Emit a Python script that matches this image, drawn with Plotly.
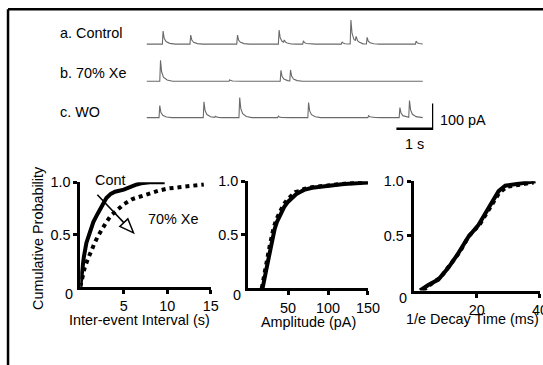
import numpy as np
import plotly.graph_objects as go

S, OFF = 0.975, 8.0      # how the page lands in the photographed picture
W, H = 557, 374          # figure size so that it fills the 543x365 picture
FONT = "Liberation Sans, Arial, sans-serif"
FS = 14.4

# ---------------- top: spontaneous currents ----------------
trace_labels = ["a. Control", "b. 70% Xe", "c. WO"]
trace_offsets = [0, -148, -293]          # pA, stacking of the three recordings
ctrl_t = [0.43, 1.18, 2.45, 3.58, 3.72, 4.24, 5.29, 5.53, 5.67, 5.97, 7.30]
ctrl_a = [52, 36, 36, 56, 10, 13, 9, 96, 20, 27, 12]
xe_t = [0.36, 2.24, 3.63, 3.89]
xe_a = [84, 6, 44, 44]
wo_t = [0.34, 1.54, 1.85, 2.51, 3.56, 4.38, 6.01, 6.86, 7.12]
wo_a = [48, 63, 5, 80, 6, 60, 8, 40, 67]
event_shape_dt = [0, 0.02, 0.05, 0.1, 0.2, 0.35]     # s after onset
event_shape_frac = [0, 1, 0.45, 0.2, 0.06, 0]        # fraction of peak
TRACE_END = 7.5
SCALE_T = 1.0      # s
SCALE_I = 100      # pA

# ---------------- bottom: cumulative distributions ----------------
iei_cont_x = [0, 0.2, 0.4, 0.7, 1.0, 1.5, 2.0, 2.5, 3.0, 3.5, 4.0, 5.0, 5.5, 6.0, 6.5, 7.0, 8.0, 9.7]
iei_cont_y = [0, 0.15, 0.28, 0.42, 0.5, 0.62, 0.7, 0.77, 0.85, 0.89, 0.91, 0.93, 0.95, 0.96, 0.98, 0.99, 1.0, 1.0]
iei_xe_x = [0, 0.2, 0.5, 0.8, 1.2, 1.6, 2.0, 2.5, 3.0, 3.5, 4.0, 5.0, 6.0, 7.0, 8.0, 9.0, 10.0, 11.0, 12.0, 13.0, 14.2]
iei_xe_y = [0, 0.09, 0.18, 0.25, 0.34, 0.41, 0.48, 0.56, 0.62, 0.68, 0.72, 0.79, 0.84, 0.87, 0.9, 0.92, 0.94, 0.95, 0.96, 0.97, 0.98]

amp_cont_x = [18, 20, 22, 25, 28, 30, 33, 36, 40, 45, 50, 55, 60, 65, 70, 80, 90, 100, 120, 140, 150]
amp_cont_y = [0, 0.06, 0.15, 0.26, 0.38, 0.46, 0.55, 0.62, 0.69, 0.76, 0.81, 0.85, 0.88, 0.9, 0.92, 0.94, 0.95, 0.96, 0.975, 0.985, 0.99]
amp_xe_x = [17, 19, 21, 24, 27, 29, 32, 35, 39, 44, 49, 54, 59, 64, 70, 80, 90, 100, 120, 140, 148]
amp_xe_y = [0, 0.07, 0.16, 0.28, 0.4, 0.48, 0.57, 0.64, 0.71, 0.78, 0.83, 0.87, 0.9, 0.91, 0.93, 0.945, 0.955, 0.965, 0.978, 0.988, 0.99]

dec_cont_x = [2, 4.6, 7.8, 11, 14.1, 17.3, 20.5, 23.7, 26.9, 29, 33, 38.6]
dec_cont_y = [0, 0.05, 0.1, 0.21, 0.34, 0.49, 0.6, 0.76, 0.91, 0.96, 0.975, 1.0]
dec_xe_x = [3, 5.5, 8.5, 11.5, 14.5, 17.5, 20.8, 24, 27, 29.5, 33.5, 38]
dec_xe_y = [0, 0.06, 0.12, 0.23, 0.35, 0.5, 0.6, 0.75, 0.89, 0.95, 0.97, 0.99]


def px(rx):
    """picture x (pixels) -> paper x"""
    return (rx / S) / W


def py(ry):
    """picture y (pixels from top) -> paper y"""
    return 1 - ((ry - OFF) / S) / H


fig = go.Figure()

# recordings
for evt_t, evt_a, off in [(ctrl_t, ctrl_a, trace_offsets[0]),
                          (xe_t, xe_a, trace_offsets[1]),
                          (wo_t, wo_a, trace_offsets[2])]:
    knots = [0.0, TRACE_END]
    for t in evt_t:
        knots += [t + d for d in event_shape_dt]
    tt = np.array(sorted(k for k in set(knots) if 0 <= k <= TRACE_END))
    yy = np.full(tt.shape, float(off))
    for t, a in zip(evt_t, evt_a):
        yy += a * np.interp(tt - t, event_shape_dt, event_shape_frac, left=0, right=0)
    fig.add_trace(go.Scatter(x=tt, y=yy, mode="lines", xaxis="x4", yaxis="y4",
                             line=dict(color="#6a6a6a", width=1.1), hoverinfo="skip"))

# scale bar (in recording axis units)
bar_t1 = TRACE_END + 0.285
bar_i0 = trace_offsets[2] - 44
fig.add_trace(go.Scatter(x=[bar_t1 - SCALE_T, bar_t1, bar_t1],
                         y=[bar_i0, bar_i0, bar_i0 + SCALE_I],
                         mode="lines", xaxis="x4", yaxis="y4",
                         line=dict(color="black", width=2.5), cliponaxis=False))

# cumulative plots
panels = [("x", "y", iei_cont_x, iei_cont_y, iei_xe_x, iei_xe_y),
          ("x2", "y2", amp_cont_x, amp_cont_y, amp_xe_x, amp_xe_y),
          ("x3", "y3", dec_cont_x, dec_cont_y, dec_xe_x, dec_xe_y)]
for xa, ya, cx, cy, xx, xy in panels:
    fig.add_trace(go.Scatter(x=xx, y=xy, mode="lines", xaxis=xa, yaxis=ya, cliponaxis=False,
                             line=dict(color="black", width=4, dash="4px,4px")))
    fig.add_trace(go.Scatter(x=cx, y=cy, mode="lines", xaxis=xa, yaxis=ya, cliponaxis=False,
                             line=dict(color="black", width=4)))

axcommon = dict(showline=True, linecolor="black", linewidth=3, ticks="outside",
                ticklen=4, tickwidth=3, tickcolor="black", showgrid=False, zeroline=False,
                tickfont=dict(family=FONT, size=FS, color="black"))

fig.update_layout(
    width=W, height=H, margin=dict(l=0, r=0, t=0, b=0),
    paper_bgcolor="white", plot_bgcolor="white", showlegend=False,
    font=dict(family=FONT, size=FS, color="black"),
    xaxis=dict(domain=[px(80), px(210)], range=[0, 15], tickvals=[5, 10, 15], anchor="y", **axcommon),
    yaxis=dict(domain=[py(285.7), py(181.7)], range=[0, 1], tickvals=[0.5, 1.0],
               ticktext=["0.5", "1.0"], anchor="x", **axcommon),
    xaxis2=dict(domain=[px(247.3), px(366.7)], range=[0, 150], tickvals=[50, 100, 150], anchor="y2", **axcommon),
    yaxis2=dict(domain=[py(287.3), py(180.7)], range=[0, 1], tickvals=[0.5, 1.0],
                ticktext=["0.5", "1.0"], anchor="x2", **axcommon),
    xaxis3=dict(domain=[px(412.3), px(538)], range=[0, 40], tickvals=[20, 40], anchor="y3", **axcommon),
    yaxis3=dict(domain=[py(289.5), py(180.7)], range=[0, 1], tickvals=[0.5, 1.0],
                ticktext=["0.5", "1.0"], anchor="x3", **axcommon),
    xaxis4=dict(domain=[px(146), px(146 + 36.7 * (TRACE_END + 0.285))], range=[0, TRACE_END + 0.285],
                visible=False, anchor="y4"),
    yaxis4=dict(domain=[py(140), py(10)], range=[-384, 136], visible=False, anchor="x4"),
)

ann = []
label_y = [33, 73, 112]
for lab, yy in zip(trace_labels, label_y):
    ann.append(dict(text=lab, x=px(58), y=py(yy), xref="paper", yref="paper",
                    xanchor="left", yanchor="middle", showarrow=False))
ann.append(dict(text=f"{SCALE_I} pA", x=bar_t1, y=bar_i0 + SCALE_I / 3, xref="x4", yref="y4",
                xanchor="left", yanchor="middle", xshift=5, showarrow=False))
ann.append(dict(text=f"{SCALE_T:g} s", x=bar_t1 - SCALE_T / 2, y=bar_i0, xref="x4", yref="y4",
                xanchor="center", yanchor="top", yshift=-5, showarrow=False))
# zero labels at origins
for xa, ya in [("x", "y"), ("x2", "y2"), ("x3", "y3")]:
    ann.append(dict(text="0", x=0, y=0, xref=xa, yref=ya, xanchor="right", yanchor="top",
                    xshift=-5, yshift=3, showarrow=False))
# axis titles
ann.append(dict(text="Cumulative Probability", x=px(38), y=py(237), xref="paper", yref="paper",
                textangle=-90, xanchor="center", yanchor="middle", showarrow=False))
ann.append(dict(text="Inter-event Interval (s)", x=px(139), y=py(319), xref="paper", yref="paper",
                xanchor="center", yanchor="middle", showarrow=False))
ann.append(dict(text="Amplitude (pA)", x=px(307), y=py(321), xref="paper", yref="paper",
                xanchor="center", yanchor="middle", showarrow=False))
ann.append(dict(text="1/e Decay Time (ms)", x=px(403), y=py(318), xref="paper", yref="paper",
                xanchor="left", yanchor="middle", showarrow=False))
# labels inside first panel
ann.append(dict(text="Cont", x=px(110), y=py(179), xref="paper", yref="paper",
                xanchor="center", yanchor="middle", showarrow=False))
ann.append(dict(text="70% Xe", x=px(172), y=py(218), xref="paper", yref="paper",
                xanchor="center", yanchor="middle", showarrow=False))
fig.update_layout(annotations=ann)

# arrow with open head (picture pixels)
tip = np.array([133.0, 232.0])
start = np.array([97.0, 194.0])
d = (tip - start) / np.linalg.norm(tip - start)
n = np.array([-d[1], d[0]])
base = tip - 14 * d
b1 = base + 5.5 * n
b2 = base - 5.5 * n
shapes = [
    dict(type="line", xref="paper", yref="paper", x0=px(start[0]), y0=py(start[1]),
         x1=px(base[0]), y1=py(base[1]), line=dict(color="black", width=1.5)),
    dict(type="path", xref="paper", yref="paper",
         path=f"M {px(b1[0])},{py(b1[1])} L {px(tip[0])},{py(tip[1])} L {px(b2[0])},{py(b2[1])} Z",
         fillcolor="white", line=dict(color="black", width=1.5)),
    # frame (top and left)
    dict(type="line", xref="paper", yref="paper", x0=px(8), y0=1 - 1.2 / H, x1=1.0, y1=1 - 1.2 / H,
         line=dict(color="black", width=2.5)),
    dict(type="line", xref="paper", yref="paper", x0=px(8), y0=1 - 1.2 / H, x1=px(8), y1=0,
         line=dict(color="black", width=2.5)),
]
fig.update_layout(shapes=shapes)

POST = ("document.documentElement.style.margin='0';document.body.style.margin='0';"
        "document.body.style.overflow='hidden';"
        "var g=document.querySelector('.plotly-graph-div');"
        "g.style.position='absolute';g.style.top='0px';g.style.left='0px';")
fig.write_html("out.html", config={"displayModeBar": False}, post_script=POST)
